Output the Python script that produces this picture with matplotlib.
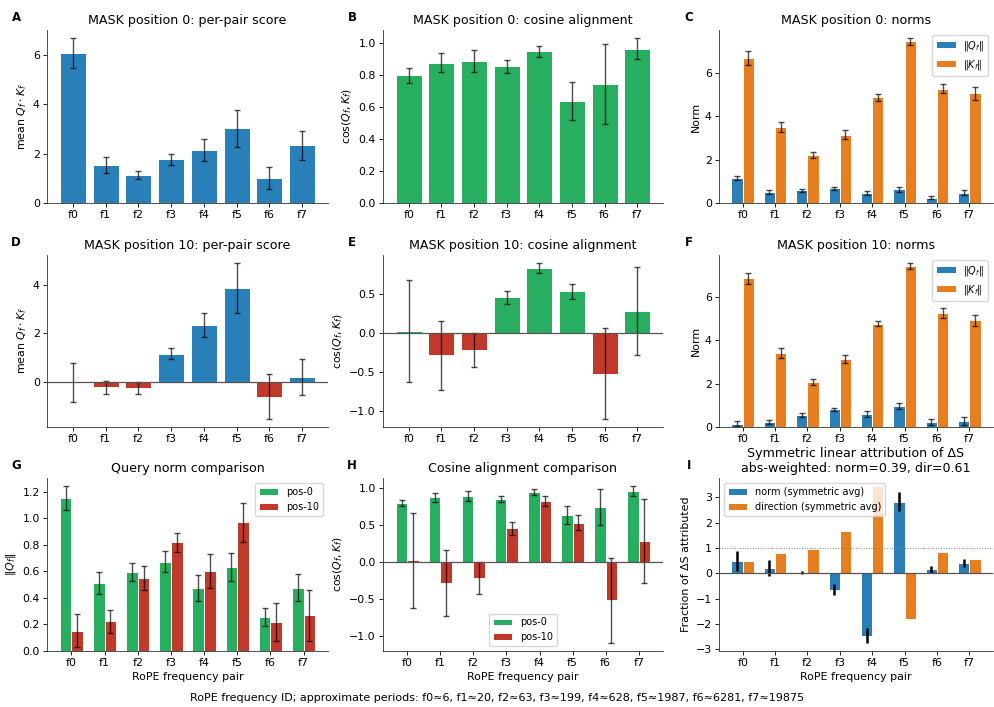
import numpy as np
import matplotlib.pyplot as plt

BLUE = "#2980b9"
ORANGE = "#e67e22"
GREEN = "#27ae60"
RED = "#c0392b"

freqs = ["f0", "f1", "f2", "f3", "f4", "f5", "f6", "f7"]
periods = [6, 20, 63, 199, 628, 1987, 6281, 19875]

# per-pair score Q_f . K_f
score_p0 = [6.09, 1.55, 1.15, 1.77, 2.14, 3.03, 1.00, 2.34]
score_p0_err = [0.60, 0.32, 0.16, 0.21, 0.45, 0.76, 0.45, 0.58]
score_p10 = [-0.03, -0.24, -0.25, 1.15, 2.35, 3.88, -0.62, 0.20]
score_p10_err = [0.79, 0.28, 0.24, 0.23, 0.50, 1.03, 0.93, 0.75]

# cosine alignment
cos_p0 = [0.80, 0.88, 0.89, 0.855, 0.95, 0.637, 0.745, 0.966]
cos_p0_err = [0.046, 0.062, 0.068, 0.038, 0.036, 0.12, 0.25, 0.066]
cos_p10 = [0.026, -0.285, -0.217, 0.455, 0.83, 0.532, -0.519, 0.285]
cos_p10_err = [0.645, 0.445, 0.217, 0.083, 0.066, 0.10, 0.58, 0.564]

# query / key norms
qnorm_p0 = [1.152, 0.513, 0.596, 0.672, 0.475, 0.634, 0.254, 0.478]
qnorm_p0_err = [0.09, 0.086, 0.065, 0.08, 0.095, 0.108, 0.069, 0.104]
qnorm_p10 = [0.153, 0.224, 0.551, 0.818, 0.604, 0.969, 0.219, 0.269]
qnorm_p10_err = [0.123, 0.088, 0.092, 0.073, 0.128, 0.15, 0.143, 0.19]
knorm_p0 = [6.70, 3.52, 2.22, 3.15, 4.88, 7.46, 5.28, 5.06]
knorm_p0_err = [0.34, 0.23, 0.15, 0.20, 0.15, 0.15, 0.20, 0.29]
knorm_p10 = [6.86, 3.42, 2.09, 3.14, 4.77, 7.42, 5.25, 4.92]
knorm_p10_err = [0.25, 0.23, 0.14, 0.17, 0.11, 0.14, 0.24, 0.26]

# symmetric linear attribution of delta S
attr_norm = [0.49, 0.22, 0.02, -0.65, -2.46, 2.84, 0.16, 0.42]
attr_norm_err = [0.41, 0.31, 0.06, 0.22, 0.30, 0.36, 0.13, 0.16]
attr_dir = [0.49, 0.79, 0.97, 1.66, 3.46, -1.80, 0.83, 0.58]
frac_norm, frac_dir = 0.39, 0.61

plt.rcParams.update({
    "axes.linewidth": 0.6,
    "axes.edgecolor": "#333333",
    "axes.titlepad": 4,
    "axes.labelpad": 3,
    "axes.labelsize": 7.9,
    "xtick.major.size": 2.6, "ytick.major.size": 2.6,
    "xtick.major.width": 0.6, "ytick.major.width": 0.6,
    "xtick.major.pad": 2.6, "ytick.major.pad": 2.6,
    "xtick.labelsize": 7.9, "ytick.labelsize": 7.9,
    "legend.fontsize": 7,
})

x = np.arange(len(freqs))
w = 0.35
ekw = dict(ecolor="black", alpha=0.7, lw=1.0, capsize=2, capthick=1.0)

fig, axes = plt.subplots(3, 3, figsize=(9.94, 7.07), dpi=100)

# axes boxes in pixels: (left, right) per column, (top, bottom) per row
cols = [(47, 328), (383, 663), (719, 993)]
rows = [(30, 203), (255, 427), (478, 651)]
W, H = 994, 707
for i, (t, b) in enumerate(rows):
    for j, (l, r) in enumerate(cols):
        axes[i, j].set_position([l / W, 1 - b / H, (r - l) / W, (b - t) / H])


def style(ax, letter, title):
    ax.set_title(title, fontsize=9.1)
    ax.spines["top"].set_visible(False)
    ax.spines["right"].set_visible(False)
    ax.set_xticks(x)
    ax.set_xticklabels(freqs)
    ax.text(-0.11, 1.075, letter, transform=ax.transAxes, fontsize=8.5,
            fontweight="bold", ha="center", va="center")


def signed(vals, pos_color):
    return [pos_color if v >= 0 else RED for v in vals]


def pair(ax, a, a_err, b, b_err, ca, cb, la, lb):
    ax.bar(x - w / 2, a, w, yerr=a_err, color=ca, edgecolor="white",
           linewidth=0.7, error_kw=ekw, label=la)
    ax.bar(x + w / 2, b, w, yerr=b_err, color=cb, edgecolor="white",
           linewidth=0.7, error_kw=ekw, label=lb)


# A
ax = axes[0, 0]
ax.bar(x, score_p0, 0.8, yerr=score_p0_err, color=BLUE, edgecolor="white",
       linewidth=0.7, error_kw=ekw)
style(ax, "A", "MASK position 0: per-pair score")
ax.set_ylabel(r"mean $Q_f \cdot K_f$")

# B
ax = axes[0, 1]
ax.bar(x, cos_p0, 0.8, yerr=cos_p0_err, color=GREEN, edgecolor="white",
       linewidth=0.7, error_kw=ekw)
style(ax, "B", "MASK position 0: cosine alignment")
ax.set_ylabel(r"$\cos(Q_f, K_f)$")

# C
ax = axes[0, 2]
pair(ax, qnorm_p0, qnorm_p0_err, knorm_p0, knorm_p0_err, BLUE, ORANGE,
     r"$\|Q_f\|$", r"$\|K_f\|$")
style(ax, "C", "MASK position 0: norms")
ax.set_ylabel("Norm")
ax.legend(loc="upper right")

# D
ax = axes[1, 0]
ax.bar(x, score_p10, 0.8, yerr=score_p10_err, color=signed(score_p10, BLUE),
       edgecolor="white", linewidth=0.7, error_kw=ekw)
ax.axhline(0, color="#555555", lw=0.9)
style(ax, "D", "MASK position 10: per-pair score")
ax.set_ylabel(r"mean $Q_f \cdot K_f$")

# E
ax = axes[1, 1]
ax.bar(x, cos_p10, 0.8, yerr=cos_p10_err, color=signed(cos_p10, GREEN),
       edgecolor="white", linewidth=0.7, error_kw=ekw)
ax.axhline(0, color="#555555", lw=0.9)
style(ax, "E", "MASK position 10: cosine alignment")
ax.set_ylabel(r"$\cos(Q_f, K_f)$")

# F
ax = axes[1, 2]
pair(ax, qnorm_p10, qnorm_p10_err, knorm_p10, knorm_p10_err, BLUE, ORANGE,
     r"$\|Q_f\|$", r"$\|K_f\|$")
style(ax, "F", "MASK position 10: norms")
ax.set_ylabel("Norm")
ax.legend(loc="upper right")

# G
ax = axes[2, 0]
pair(ax, qnorm_p0, qnorm_p0_err, qnorm_p10, qnorm_p10_err, GREEN, RED,
     "pos-0", "pos-10")
style(ax, "G", "Query norm comparison")
ax.set_ylabel(r"$\|Q_f\|$")
ax.set_xlabel("RoPE frequency pair")
ax.legend(loc="upper right")

# H
ax = axes[2, 1]
pair(ax, cos_p0, cos_p0_err, cos_p10, cos_p10_err, GREEN, RED, "pos-0", "pos-10")
ax.axhline(0, color="#555555", lw=0.9)
style(ax, "H", "Cosine alignment comparison")
ax.set_ylabel(r"$\cos(Q_f, K_f)$")
ax.set_xlabel("RoPE frequency pair")
ax.legend(loc="lower center")

# I
ax = axes[2, 2]
ax.bar(x - w / 2, attr_norm, w, color=BLUE, edgecolor="white", linewidth=0.7,
       label="norm (symmetric avg)")
ax.bar(x + w / 2, attr_dir, w, color=ORANGE, edgecolor="white", linewidth=0.7,
       label="direction (symmetric avg)")
ax.errorbar(x - w / 2, attr_norm, yerr=attr_norm_err, fmt="none", ecolor="black",
            lw=1.8, capsize=0)
ax.axhline(0, color="#555555", lw=0.9)
ax.axhline(1, color="grey", lw=0.7, ls=":")
style(ax, "I", "Symmetric linear attribution of \u0394S\n"
      f"abs-weighted: norm={frac_norm:.2f}, dir={frac_dir:.2f}")
ax.set_ylabel("Fraction of \u0394S attributed")
ax.set_xlabel("RoPE frequency pair")
ax.legend(loc="upper left")

footer = "RoPE frequency ID; approximate periods: " + ", ".join(
    f"{f}\u2248{p}" for f, p in zip(freqs, periods))
fig.text(0.5, 0.005, footer, ha="center", va="bottom", fontsize=8)

plt.savefig("out.png", dpi=100)
